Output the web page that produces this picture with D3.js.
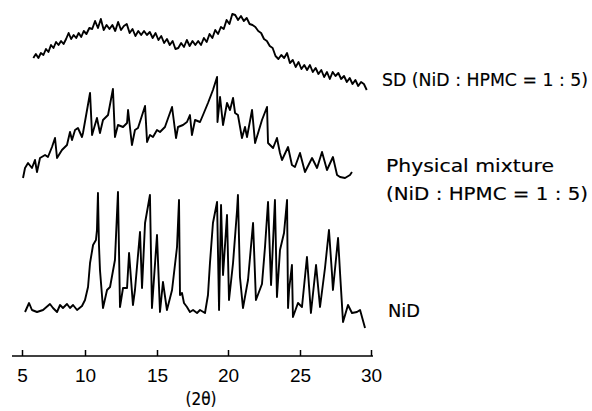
<!DOCTYPE html>
<html><head><meta charset="utf-8">
<script src="https://cdn.jsdelivr.net/npm/d3@7"></script>
<style>body{margin:0;background:#fff}svg{display:block}</style></head>
<body><svg id="c" width="592" height="411"></svg>
<script>
// ---- data (2θ in degrees, intensity in arbitrary units) ----
const tickValues = [5, 10, 15, 20, 25, 30];

// SD (NiD : HPMC = 1 : 5), regular 2θ grid
const sdStart = 5.9, sdStep = 0.2;
const sdIntensity = [
  42,46,42,47,45,51,48,55,52,58,
  55,59,56,61,67,61,65,62,67,63,
  69,66,72,71,79,72,81,70,75,71,
  75,69,78,70,74,76,67,71,64,69,
  65,69,65,68,62,67,60,64,57,61,
  55,59,51,52,57,53,60,54,59,55,
  59,55,62,58,66,62,70,66,73,71,
  80,76,86,85,80,84,79,82,76,75,
  73,69,67,61,59,54,52,44,41,45,
  42,47,37,40,33,38,31,35,30,35,
  28,32,26,30,23,28,21,28,24,27,
  21,24,18,22,16,20,14,18,16,10
];

// Physical mixture (NiD : HPMC = 1 : 5)
const physTheta = [5.08,5.24,5.48,5.79,6.03,6.19,6.43,6.83,7.06,7.38,7.62,7.78,8.17,8.57,8.81,8.97,9.21,9.44,9.76,9.84,
  10.35,10.49,10.83,11.04,11.25,11.60,11.94,12.08,12.29,12.64,12.92,12.99,13.26,13.47,13.68,14.17,14.31,14.51,14.72,15.00,
  15.21,15.56,16.06,16.34,16.48,16.83,17.11,17.32,17.46,17.68,18.03,18.24,18.59,18.94,19.23,19.26,19.44,19.65,19.93,20.14,
  20.35,20.49,20.69,20.97,21.18,21.32,21.67,21.88,22.36,22.71,22.78,23.13,23.40,23.61,23.75,24.17,24.44,24.65,25.00,25.35,
  25.85,26.20,26.55,26.90,27.32,27.61,27.82,28.17,28.52,28.66];
const physIntensity = [7,17,22,17,25,13,27,30,28,38,47,27,35,40,53,45,55,57,48,52,
  92,50,67,52,65,70,96,48,60,58,62,75,40,55,57,79,43,50,48,55,
  53,58,78,47,58,60,63,70,50,65,63,70,82,95,108,63,88,60,82,75,
  87,72,70,47,58,48,75,42,65,78,42,37,47,32,25,38,20,18,32,13,
  27,17,33,15,28,10,8,7,10,13];

// NiD
const nidTheta = [5.24,5.56,5.79,6.19,6.67,7.22,7.46,7.78,8.02,8.25,8.57,8.81,9.05,9.37,9.76,10.00,10.21,10.35,10.56,10.76,
  10.83,10.90,10.97,11.04,11.25,11.53,11.74,12.08,12.29,12.43,12.64,12.92,13.06,13.33,13.47,13.82,13.96,14.17,14.51,14.65,
  15.00,15.21,15.42,15.70,16.06,16.41,16.55,16.62,16.76,16.90,17.11,17.32,17.54,17.82,18.03,18.38,18.59,18.73,18.94,19.23,
  19.37,19.51,19.65,19.93,20.07,20.35,20.63,20.69,20.83,21.04,21.39,21.74,21.94,22.36,22.57,22.78,22.99,23.26,23.40,23.61,
  23.89,24.10,24.17,24.24,24.44,24.51,24.86,25.14,25.49,25.77,26.13,26.41,26.76,27.04,27.25,27.32,27.68,27.82,28.03,28.38,
  28.66,29.01,29.23,29.58];
const nidIntensity = [18,27,20,18,20,26,22,18,25,22,26,22,25,20,24,30,43,67,85,90,
  100,137,85,60,22,40,43,70,138,23,42,42,77,25,40,98,42,107,135,22,
  95,18,48,20,40,83,130,35,37,27,23,18,20,17,20,17,35,67,107,128,
  20,125,55,115,30,67,120,135,53,22,50,107,30,46,83,128,45,130,33,80,
  97,130,22,40,65,13,27,23,73,17,65,23,62,100,57,40,92,57,8,25,
  17,18,20,2];

const seriesLabels = [
  ["SD (NiD : HPMC = 1 : 5)"],
  ["Physical mixture", "(NiD : HPMC = 1 : 5)"],
  ["NiD"]
];
const axisTitle = "(2θ)";

// ---- drawing ----
const svg = d3.select("#c");
const x = d3.scaleLinear().domain([5, 10, 15, 20, 25, 30]).range([22, 85, 157, 228, 300, 371]);
const y = d3.scaleLinear().domain([0, 150]).range([0, -150]);
const baseY = { sd: 100, phys: 185, nid: 330 };

const sdData = sdIntensity.map((v, i) => [sdStart + i * sdStep, v]);
const physData = physTheta.map((t, i) => [t, physIntensity[i]]);
const nidData = nidTheta.map((t, i) => [t, nidIntensity[i]]);

const line = d3.line().x(d => x(d[0])).y(d => y(d[1]));
[[sdData, baseY.sd], [physData, baseY.phys], [nidData, baseY.nid]].forEach(([data, b]) => {
  svg.append("g").attr("transform", `translate(0,${b})`)
    .append("path").datum(data)
    .attr("d", line)
    .attr("fill", "none")
    .attr("stroke", "#000")
    .attr("stroke-width", 1.9)
    .attr("stroke-linejoin", "round");
});

// axis
const axisY = 356;
const ax = svg.append("g").attr("transform", `translate(0,${axisY})`)
  .call(d3.axisBottom(x).tickValues(tickValues).tickSize(-6).tickSizeOuter(0).tickPadding(13).tickFormat(d3.format("d")));
ax.select(".domain").remove();
ax.selectAll(".tick line").attr("stroke", "#000").attr("stroke-width", 1.5);
ax.selectAll(".tick text").attr("fill", "#000")
  .style("font-family", "'Liberation Sans', Arial, sans-serif").style("font-size", "19px");
svg.append("line").attr("x1", 12).attr("x2", 373).attr("y1", axisY).attr("y2", axisY)
  .attr("stroke", "#000").attr("stroke-width", 1.5);
svg.append("text").attr("x", 201).attr("y", 405).attr("text-anchor", "middle")
  .style("font-family", "'DejaVu Sans Condensed','DejaVu Sans',sans-serif").style("font-size", "17px")
  .attr("fill", "#000").attr("stroke", "#000").attr("stroke-width", 0.15).text(axisTitle);

// labels
const labelFont = "'DejaVu Sans Condensed','DejaVu Sans',sans-serif";
const labelSpecs = [
  { lines: seriesLabels[0], x: 382, y: [86], w: [206] },
  { lines: seriesLabels[1], x: 386, y: [172, 200], w: [168, 202] },
  { lines: seriesLabels[2], x: 388, y: [317], w: [32] }
];
labelSpecs.forEach(s => {
  s.lines.forEach((t, i) => {
    svg.append("text").attr("x", s.x).attr("y", s.y[i])
      .attr("textLength", s.w[i]).attr("lengthAdjust", "spacingAndGlyphs")
      .style("font-family", labelFont).style("font-size", "17.5px")
      .attr("fill", "#000").attr("stroke", "#000").attr("stroke-width", 0.15).text(t);
  });
});
</script></body></html>
